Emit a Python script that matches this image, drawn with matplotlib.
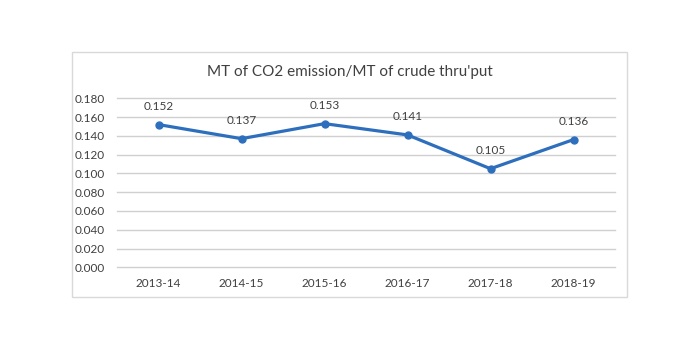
import matplotlib
matplotlib.use("Agg")
import matplotlib.pyplot as plt
from matplotlib.patches import Rectangle

categories = ["2013-14", "2014-15", "2015-16", "2016-17", "2017-18", "2018-19"]
values = [0.152, 0.137, 0.153, 0.141, 0.105, 0.136]
yticks = [0.0, 0.02, 0.04, 0.06, 0.08, 0.10, 0.12, 0.14, 0.16, 0.18]
title = "MT of CO2 emission/MT of crude thru'put"

plt.rcParams['font.family'] = ['Lato', 'DejaVu Sans']
W, H = 700, 350
fig = plt.figure(figsize=(7, 3.5), dpi=100)
fig.patch.set_facecolor("white")

# chart border
fig.add_artist(Rectangle((72 / W, 1 - 297 / H), (627 - 72) / W, (297 - 52) / H,
                         transform=fig.transFigure, fill=False,
                         edgecolor="#d9d9d9", linewidth=1))

ax = fig.add_axes([117 / W, 1 - 267.3 / H, (615 - 117) / W, (267.3 - 98.3) / H])
x = list(range(len(categories)))
ax.plot(x, values, color="#2E6FBD", linewidth=2.3, marker="o", markersize=5,
        solid_capstyle="round", zorder=3)
for xi, v in zip(x, values):
    ax.annotate(f"{v:.3f}", (xi, v), xytext=(0, 9), textcoords="offset points",
                ha="center", va="bottom", fontsize=8.5, color="#404040")

ax.set_xlim(-0.5, len(categories) - 0.5)
ax.set_ylim(0, 0.18)
ax.set_yticks(yticks)
ax.set_yticklabels([f"{t:.3f}" for t in yticks])
ax.set_xticks(x)
ax.set_xticklabels(categories)
ax.tick_params(axis="both", length=0, labelsize=8.5, labelcolor="#404040")
ax.tick_params(axis="y", pad=9)
ax.tick_params(axis="x", pad=8)
ax.grid(False)
for t in yticks:
    ax.axhline(t, color="#d0d0d0", linewidth=1, clip_on=False, zorder=1)
for s in ax.spines.values():
    s.set_visible(False)

fig.text(350 / W, 1 - 72 / H, title, ha="center", va="center", fontsize=11,
         color="#404040")

fig.savefig("out.png", dpi=100)
